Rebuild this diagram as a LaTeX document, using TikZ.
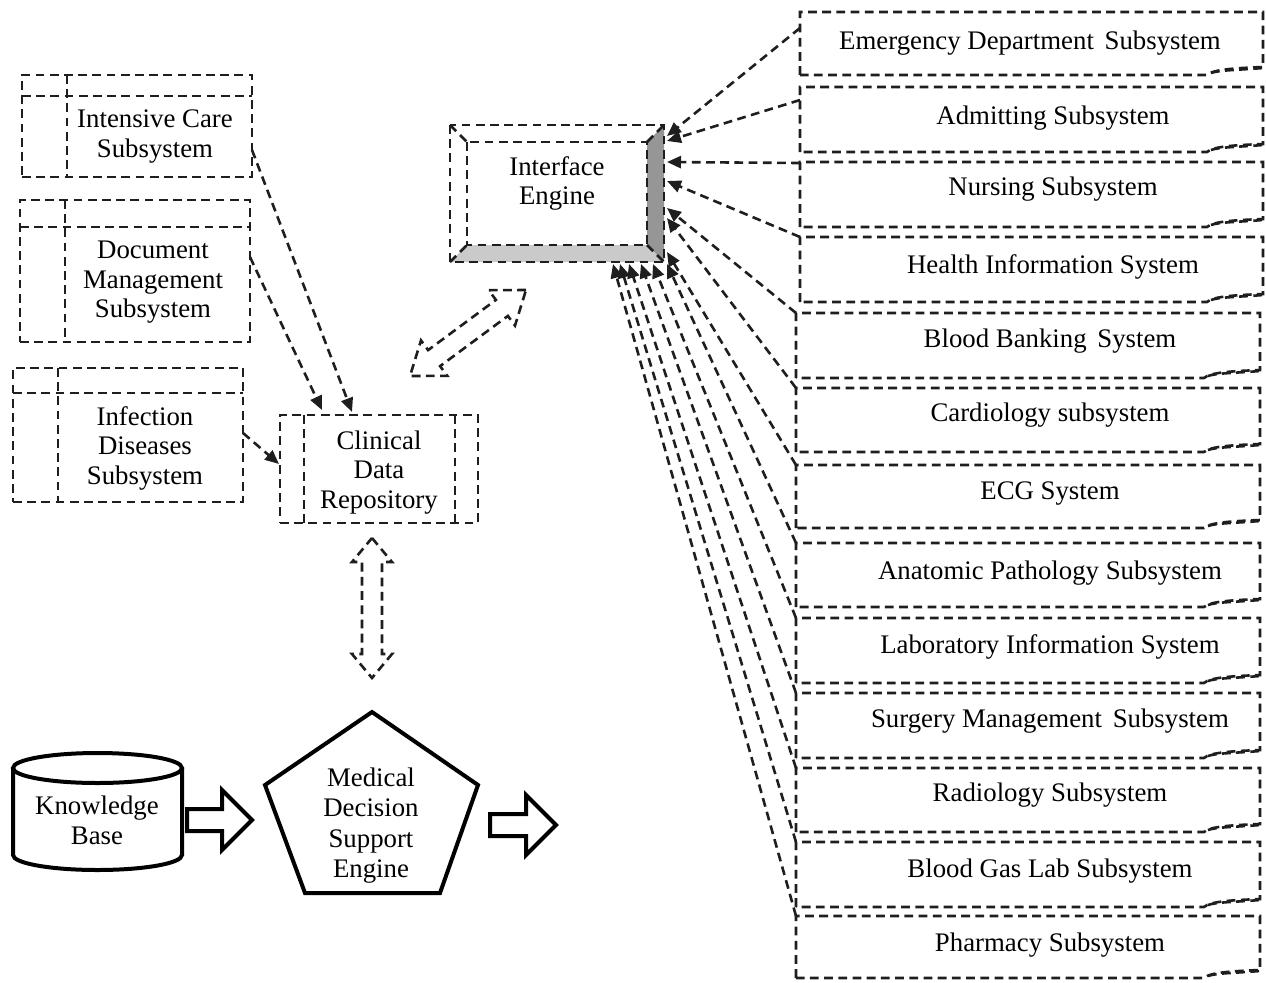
\documentclass[tikz,border=0pt]{standalone}
\usepackage{fontspec}
\setmainfont{Liberation Serif}
\usetikzlibrary{arrows.meta,calc}

\definecolor{ink}{RGB}{30,30,30}
\definecolor{bevdark}{RGB}{150,150,150}
\definecolor{bevlight}{RGB}{202,202,202}

\tikzset{
  dsh/.style={draw=ink, line width=1.3pt, dash pattern=on 4.4pt off 2.7pt},
  conn/.style={dsh, -{Triangle[length=7pt,width=6pt]}},
  area/.style={inner sep=0pt, outer sep=0pt, draw=none},
  lbl/.style={align=center, font=\fontsize{13.4}{14.8}\selectfont, inner sep=0pt, yshift=-1.2pt},
  solidln/.style={draw=black, line width=2pt, line join=miter},
}

% dashed box with a folded lower-right corner
% #1 name, #2 x0, #3 y0, #4 x1, #5 y1, #6 text x, #7 text y, #8 text
\newcommand\subsys[8]{%
  \node[area, minimum width={(#4-#2)*0.5pt}, minimum height={(#5-#3)*0.5pt}]
    (#1) at ({(#2+#4)/2},{(#3+#5)/2}) {};
  \node[lbl] (#1-t) at (#6,#7) {#8};
  \draw[dsh] (#1.south west) -- (#1.north west) -- (#1.north east)
    -- ([yshift=4pt]#1.south east)
    .. controls +(-12pt,-0.5pt) and +(3pt,3pt) .. ([xshift=-28pt]#1.south east) -- cycle;
  \draw[dsh] ([xshift=-26pt,yshift=1pt]#1.south east)
    .. controls +(4pt,1.5pt) and +(-12pt,-1pt) .. ([yshift=3.5pt]#1.south east);
}

% dashed internal-storage box
% #1 name, #2 x0, #3 y0, #4 x1, #5 y1, #6 divider x, #7 divider y
\newcommand\storebox[7]{%
  \node[area, dsh, minimum width={(#4-#2)*0.5pt}, minimum height={(#5-#3)*0.5pt}]
    (#1) at ({(#2+#4)/2},{(#3+#5)/2}) {};
  \draw[dsh] (#6,#3) -- (#6,#5);
  \draw[dsh] (#2,#7) -- (#4,#7);
}

\begin{document}
\begin{tikzpicture}[x=0.5pt, y=-0.5pt]
\useasboundingbox (0,0) rectangle (1266,982);

% ---- left subsystems ----
\storebox{icu}{22}{75}{252}{177}{67}{96}
\node[lbl] (icu-t) at (155,134) {Intensive Care\\Subsystem};
\storebox{doc}{20}{200}{250}{342}{65}{227}
\node[lbl] (doc-t) at (153,280) {Document\\Management\\Subsystem};
\storebox{inf}{13}{368}{243}{502}{58}{393}
\node[lbl] (inf-t) at (145,446) {Infection\\Diseases\\Subsystem};

% ---- clinical data repository ----
\node[area, dsh, minimum width=99pt, minimum height=54pt] (cdr) at (379,469) {};
\draw[dsh] (304,415) -- (304,523);
\draw[dsh] (455,415) -- (455,523);
\node[lbl] (cdr-t) at (379,470) {Clinical\\Data\\Repository};

% ---- interface engine (bevel) ----
\node[area, minimum width=107pt, minimum height=68.5pt] (ie) at (557,193.5) {};
\fill[bevdark] (647,142) -- (664,125) -- (664,262) -- (647,245) -- cycle;
\fill[bevlight] (450,262) -- (467,245) -- (647,245) -- (664,262) -- cycle;
\draw[dsh] (450,125) rectangle (664,262);
\draw[dsh] (467,142) rectangle (647,245);
\draw[dsh] (450,125) -- (467,142);
\draw[dsh] (450,262) -- (467,245);
\draw[dsh] (647,142) -- (664,125);
\draw[dsh] (647,245) -- (664,262);
\node[lbl] (ie-t) at (557,181) {Interface\\Engine};

% ---- right subsystems ----
\subsys{em}{800}{12}{1263}{75}{1030}{41}{Emergency Department\hspace{2pt} Subsystem}
\subsys{ad}{800}{87}{1263}{152}{1053}{116}{Admitting Subsystem}
\subsys{nu}{800}{162}{1263}{227}{1053}{187}{Nursing Subsystem}
\subsys{he}{800}{237}{1263}{302}{1053}{265}{Health Information System}
\subsys{bb}{796}{313}{1260}{378}{1050}{339}{Blood Banking\hspace{2pt} System}
\subsys{ca}{796}{388}{1260}{452}{1050}{413}{Cardiology subsystem}
\subsys{ecg}{796}{465}{1260}{528}{1050}{491}{ECG System}
\subsys{an}{796}{543}{1260}{607}{1050}{571}{Anatomic Pathology Subsystem}
\subsys{la}{796}{618}{1260}{683}{1050}{645}{Laboratory Information System}
\subsys{su}{796}{693}{1260}{758}{1050}{719}{Surgery Management\hspace{2pt} Subsystem}
\subsys{ra}{796}{768}{1260}{832}{1050}{793}{Radiology Subsystem}
\subsys{bg}{796}{842}{1260}{907}{1050}{869}{Blood Gas Lab Subsystem}
\subsys{ph}{796}{916}{1260}{978}{1050}{943}{Pharmacy Subsystem}

% ---- feeds into the interface engine ----
\draw[conn] ([yshift=-8pt]em.north west)  -- ([xshift=1.5pt,yshift=-5.5pt]ie.north east);
\draw[conn] ([yshift=-6.5pt]ad.north west) -- ([xshift=1.5pt,yshift=-8pt]ie.north east);
\draw[conn] ([yshift=-0.5pt]nu.north west) -- ([xshift=1.5pt,yshift=-18.5pt]ie.north east);
\draw[conn] (he.north west) -- ([xshift=1.5pt,yshift=-28pt]ie.north east);
\draw[conn] (bb.north west) -- ([xshift=1.5pt,yshift=-41.5pt]ie.north east);
\draw[conn] (ca.north west) -- ([xshift=1.5pt,yshift=-46.5pt]ie.north east);
\draw[conn] (ecg.north west) -- ([xshift=1.5pt,yshift=5pt]ie.south east);
\draw[conn] (an.north west) -- ([xshift=1.5pt,yshift=-1pt]ie.south east);
\draw[conn] (la.north west) -- ([xshift=-5.5pt,yshift=-1pt]ie.south east);
\draw[conn] (su.north west) -- ([xshift=-11.5pt,yshift=-1pt]ie.south east);
\draw[conn] (ra.north west) -- ([xshift=-17.5pt,yshift=-1pt]ie.south east);
\draw[conn] (bg.north west) -- ([xshift=-22pt,yshift=-1pt]ie.south east);
\draw[conn] (ph.north west) -- ([xshift=-25.5pt,yshift=-1pt]ie.south east);

% ---- feeds into the repository ----
\draw[conn] ([yshift=-12pt]icu.east) -- ([xshift=-13.5pt,yshift=1.5pt]cdr.north);
\draw[conn] ([yshift=7pt]doc.east)   -- ([xshift=-28.5pt,yshift=2.5pt]cdr.north);
\draw[conn] ([yshift=1pt]inf.east)   -- ([xshift=-0.5pt,yshift=2.5pt]cdr.west);

% ---- two-way exchange arrows ----
\draw[dsh, line join=miter] (526,290) -- (488.8,290.2) -- (495.9,299.9) -- (428.1,350.1)
  -- (421.0,340.4) -- (410,376) -- (447.2,375.8) -- (440.1,366.1) -- (507.9,315.9)
  -- (515.0,325.6) -- cycle;
\draw[dsh, line join=miter] (372,538) -- (392,562) -- (382,562) -- (382,654) -- (392,654)
  -- (372,678) -- (352,654) -- (362,654) -- (362,562) -- (352,562) -- cycle;

% ---- knowledge base ----
\draw[solidln] (13,768) -- (13,855)
  arc[start angle=180, end angle=360, x radius=42.25pt, y radius=7.5pt] -- (182,768);
\draw[solidln] (97.5,768) ellipse[x radius=42.25pt, y radius=7.5pt];
\node[lbl] (kb) at (97,818) {Knowledge\\Base};

% ---- decision support engine ----
\draw[solidln] (372,712) -- (478,785) -- (440,893) -- (305,893) -- (265,785) -- cycle;
\node[lbl, font=\fontsize{13.4}{15.2}\selectfont] (mdse) at (371,823) {Medical\\Decision\\Support\\Engine};

% ---- block arrows ----
\draw[solidln] (187,809) -- (222,809) -- (222,790) -- (252,820) -- (222,850) -- (222,831)
  -- (187,831) -- cycle;
\draw[solidln] (490,814) -- (526,814) -- (526,795) -- (556,825) -- (526,855) -- (526,836)
  -- (490,836) -- cycle;
\end{tikzpicture}
\end{document}
